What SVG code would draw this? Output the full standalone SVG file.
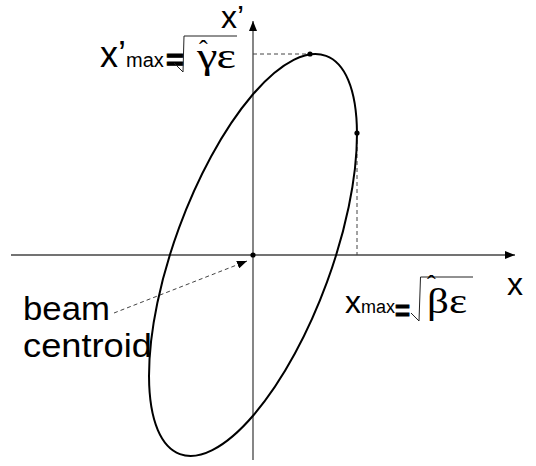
<svg xmlns="http://www.w3.org/2000/svg" width="536" height="466" viewBox="0 0 536 466">
<defs>
<style>
.axis{stroke:#444;stroke-width:1.3;fill:none}
.dash{stroke:#444;stroke-width:1;stroke-dasharray:4 3;fill:none}
.rad{stroke:#222;stroke-width:1;fill:none}
.sans{font-family:"Liberation Sans",Arial,sans-serif;fill:#000}
.serif{font-family:"Liberation Serif","Times New Roman",serif;fill:#000}
.eq{font-family:"Liberation Sans",Arial,sans-serif;fill:#000;stroke:#000;stroke-width:1;font-weight:bold}
.dot{fill:#000}
</style>
<marker id="ah" viewBox="0 0 10 8" refX="10" refY="4" markerWidth="10" markerHeight="8" markerUnits="userSpaceOnUse" orient="auto">
<path d="M0,0 L10,4 L0,8 Z" fill="#000"/>
</marker>
</defs>
<rect width="536" height="466" fill="#fff"/>
<g id="connectors">
<line class="axis" x1="11" y1="255" x2="515" y2="255" marker-end="url(#ah)"/>
<line class="axis" x1="253" y1="460" x2="253" y2="21" marker-end="url(#ah)"/>
<line class="dash" x1="253" y1="54" x2="310" y2="54"/>
<line class="dash" x1="357" y1="133" x2="357" y2="255"/>
<line class="dash" x1="114" y1="313" x2="247" y2="261" marker-end="url(#ah)"/>
</g>
<g id="ellipse">
<ellipse cx="0" cy="0" rx="212.1" ry="78.8" transform="translate(253,255) rotate(-69.85)" fill="none" stroke="#000" stroke-width="2"/>
<circle class="dot" cx="310" cy="54" r="2.6"/>
<circle class="dot" cx="357" cy="133" r="2.6"/>
<circle class="dot" cx="253" cy="255" r="2.6"/>
</g>
<g id="label-xprime-axis">
<text class="sans" x="221" y="28" font-size="32">x’</text>
</g>
<g id="label-x-axis">
<text class="sans" x="507" y="295" font-size="32">x</text>
</g>
<g id="label-xpmax">
<text class="sans" x="100" y="67" font-size="36">x’<tspan font-size="20">max</tspan></text>
<text class="eq" x="166" y="69.5" font-size="30" textLength="18" lengthAdjust="spacingAndGlyphs">=</text>
<polyline class="rad" points="174,63 183,72 184,36 237,36"/>
<text class="serif" x="199" y="58" font-size="26">ˆ<tspan x="197" y="68" font-size="36" textLength="39" lengthAdjust="spacingAndGlyphs">γε</tspan></text>
</g>
<g id="label-xmax">
<text class="sans" x="345" y="313" font-size="32">x<tspan font-size="18">max</tspan></text>
<text class="eq" x="395" y="319.5" font-size="28" textLength="15" lengthAdjust="spacingAndGlyphs">=</text>
<polyline class="rad" points="411,313 419,321 420.5,277 473,277"/>
<text class="serif" x="427" y="293" font-size="26">ˆ<tspan x="427" y="313" font-size="36" textLength="40" lengthAdjust="spacingAndGlyphs">βε</tspan></text>
</g>
<g id="label-centroid">
<text class="sans" font-size="34" textLength="87" lengthAdjust="spacingAndGlyphs" x="23" y="320">beam</text>
<text class="sans" font-size="34" textLength="129" lengthAdjust="spacingAndGlyphs" x="23" y="357">centroid</text>
</g>
</svg>
